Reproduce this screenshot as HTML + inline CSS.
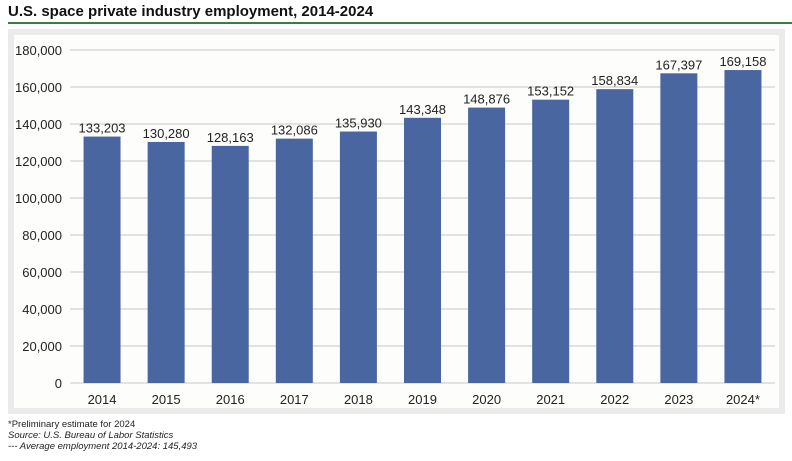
<!DOCTYPE html>
<html><head><meta charset="utf-8"><style>
body{margin:0;background:#fff;font-family:"Liberation Sans",sans-serif;}
#wrap{position:relative;width:792px;height:461px;overflow:hidden;}
.title{position:absolute;left:8px;top:3px;font-size:15px;font-weight:bold;color:#111;}
.rule{position:absolute;left:8px;top:22px;width:784px;height:2px;background:#3c7a4a;}
.frame{position:absolute;left:8px;top:29px;width:777px;height:385px;background:#ebebeb;}
.inner{position:absolute;left:14px;top:35px;width:765px;height:373px;background:#fdfdfb;}
.note{position:absolute;left:8px;font-size:9.5px;color:#222;}
</style></head><body>
<div id="wrap">
<div class="title">U.S. space private industry employment, 2014-2024</div>
<div class="rule"></div>
<div class="frame"></div>
<div class="inner"></div>
<svg id="chart" width="792" height="461" style="position:absolute;left:0;top:0"></svg>
<div class="note" style="top:419px">*Preliminary estimate for 2024</div>
<div class="note" style="top:430px;font-style:italic">Source: U.S. Bureau of Labor Statistics</div>
<div class="note" style="top:441px;font-style:italic">--- Average employment 2014-2024: 145,493</div>
</div>
<script>
const categories=["2014","2015","2016","2017","2018","2019","2020","2021","2022","2023","2024*"];
const values=[133203,130280,128163,132086,135930,143348,148876,153152,158834,167397,169158];
const yTicks=[0,20000,40000,60000,80000,100000,120000,140000,160000,180000];
const NS="http://www.w3.org/2000/svg";
const svg=document.getElementById("chart");
const x0=70,x1=775,y0=383,y1=50,yMax=180000;
const band=(x1-x0)/categories.length;
const y=v=>y0-(v/yMax)*(y0-y1);
const xc=i=>x0+band*(i+0.5);
const fmt=v=>v.toLocaleString("en-US");
function mk(t,a){const e=document.createElementNS(NS,t);for(const k in a)e.setAttribute(k,a[k]);svg.appendChild(e);return e;}
yTicks.forEach(t=>{
 const g=mk("line",{x1:x0,x2:x1,y1:y(t),y2:y(t),stroke:"#d9d9d9","stroke-width":1.5});
 
 
 const l=mk("text",{x:62,y:y(t)+5,"text-anchor":"end","font-size":13,fill:"#222","font-family":"Liberation Sans, sans-serif"});
 l.textContent=fmt(t);
 
 
});
const bw=37;
values.forEach((v,i)=>{
 const r=mk("rect",{x:xc(i)-bw/2,y:y(v),width:bw,height:y0-y(v),fill:"#4a66a0"});
 
 
 const t=mk("text",{x:xc(i),y:y(v)-4,"text-anchor":"middle","font-size":13,fill:"#222","font-family":"Liberation Sans, sans-serif"});
 t.textContent=fmt(v);
 
 
 const c=mk("text",{x:xc(i),y:404,"text-anchor":"middle","font-size":13,fill:"#222","font-family":"Liberation Sans, sans-serif"});
 c.textContent=categories[i];
 
 
});
</script>
</body></html>
